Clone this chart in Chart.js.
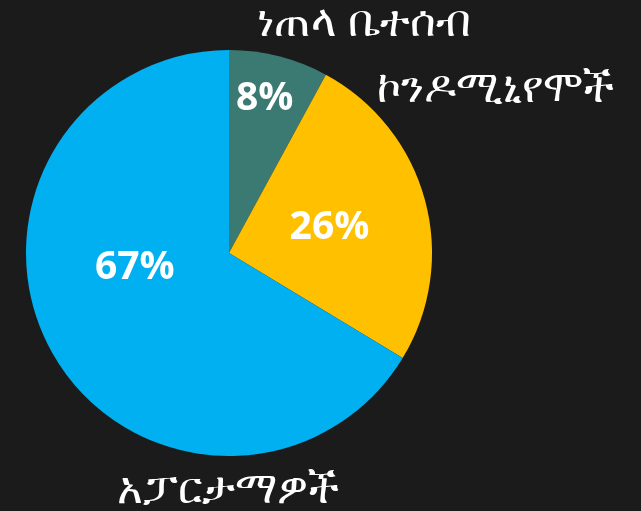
<!DOCTYPE html>
<html>
<head>
<meta charset="utf-8">
<script src="https://cdn.jsdelivr.net/npm/chart.js@4"></script>
<style>
  html, body { margin: 0; padding: 0; background: #1b1b1b; }
  #wrap { width: 641px; height: 511px; }
</style>
</head>
<body>
<div id="wrap"><canvas id="pieChart"></canvas></div>
<script>
const categories = ['ነጠላ ቤተሰብ', 'ኮንዶሚኒየሞች', 'አፓርታማዎች'];
const shares = [8, 26, 67];
const percentLabels = ['8%', '26%', '67%'];
const sliceColors = ['#3b7a73', '#ffc000', '#00b0f0'];

// where each text sits: angle from 12 o'clock (deg) and distance as a fraction of the radius
const percentSpots = [[13, 0.78], [76, 0.51], [261, 0.47]];
const nameSpots = [[30.5, 1.31], [58.5, 1.54], [180.2, 1.17]];

const sliceText = {
  id: 'sliceText',
  afterDatasetsDraw(chart) {
    const ctx = chart.ctx;
    const arc = chart.getDatasetMeta(0).data[0];
    const cx = arc.x, cy = arc.y, r = arc.outerRadius;
    const at = (spot) => {
      const a = (spot[0] - 90) * Math.PI / 180;
      return [cx + Math.cos(a) * r * spot[1], cy + Math.sin(a) * r * spot[1]];
    };
    ctx.save();
    ctx.fillStyle = '#ffffff';
    ctx.textAlign = 'center';
    ctx.textBaseline = 'middle';
    ctx.font = 'bold 39px "Open Sans", "DejaVu Sans", sans-serif';
    percentLabels.forEach((t, i) => {
      const p = at(percentSpots[i]);
      ctx.fillText(t, p[0], p[1]);
    });
    ctx.font = '300 44px "Noto Sans", "DejaVu Sans", sans-serif';
    categories.forEach((t, i) => {
      const p = at(nameSpots[i]);
      ctx.fillText(t, p[0], p[1]);
    });
    ctx.restore();
  }
};

new Chart(document.getElementById('pieChart'), {
  type: 'pie',
  data: {
    labels: categories,
    datasets: [{
      data: shares,
      backgroundColor: sliceColors,
      borderWidth: 0
    }]
  },
  options: {
    responsive: true,
    maintainAspectRatio: false,
    animation: false,
    layout: { padding: { left: 26, right: 209, top: 50, bottom: 55 } },
    plugins: {
      legend: { display: false },
      tooltip: { enabled: false }
    }
  },
  plugins: [sliceText]
});
</script>
</body>
</html>
